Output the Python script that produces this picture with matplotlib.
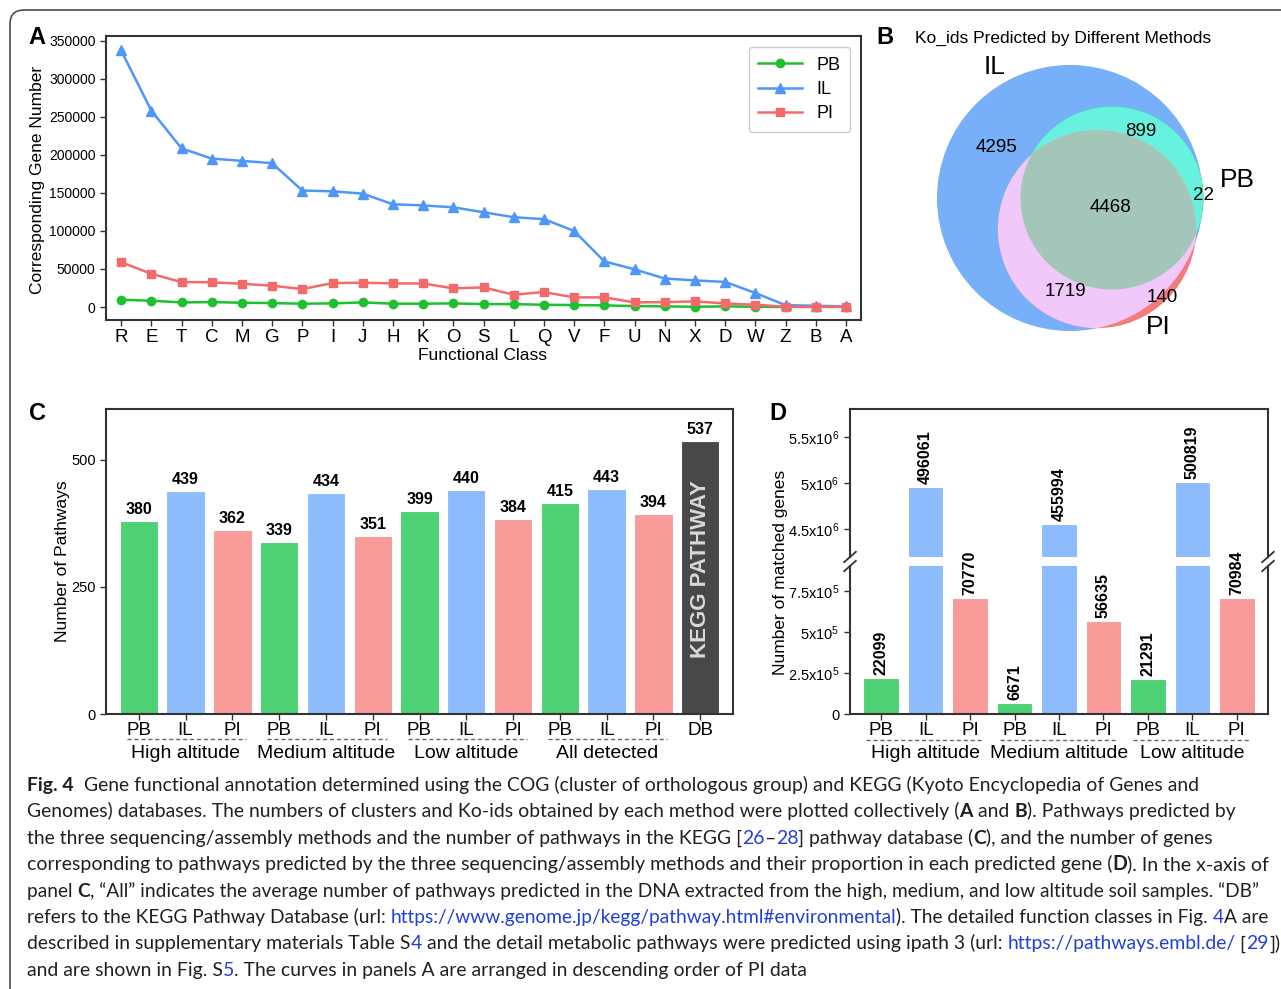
import numpy as np
import matplotlib
matplotlib.use('Agg')
import matplotlib.pyplot as plt
from matplotlib.patches import Circle, FancyBboxPatch

plt.rcParams['font.family'] = ['Liberation Sans', 'DejaVu Sans']

# ---- data ----
cog_classes = ['R', 'E', 'T', 'C', 'M', 'G', 'P', 'I', 'J', 'H', 'K', 'O',
               'S', 'L', 'Q', 'V', 'F', 'U', 'N', 'X', 'D', 'W', 'Z', 'B', 'A']
il_counts = [337000, 258000, 208500, 195000, 192000, 189000, 153000, 152000,
             149000, 135000, 133500, 131000, 124500, 118000, 115500, 100000,
             60000, 49500, 37500, 35000, 33000, 18500, 2500, 1700, 900]
pi_counts = [59000, 43700, 32800, 32500, 30600, 28000, 23600, 31500, 32000,
             31000, 31000, 24500, 25800, 16200, 19700, 12700, 12700, 6100,
             6500, 7400, 4800, 3000, 400, 400, 400]
pb_counts = [9600, 8300, 6100, 6500, 5700, 5200, 4400, 4800, 6100, 4400,
             4400, 4800, 3900, 3900, 3000, 2600, 2200, 1300, 900, 400, 900,
             400, 100, 100, 100]

venn_counts = {'IL': 4295, 'PB+IL': 899, 'PB': 22, 'all': 4468,
               'PI+IL': 1719, 'PI': 140}

c_methods = ['PB', 'IL', 'PI', 'PB', 'IL', 'PI', 'PB', 'IL', 'PI',
             'PB', 'IL', 'PI', 'DB']
c_pathways = [380, 439, 362, 339, 434, 351, 399, 440, 384, 415, 443, 394, 537]
c_groups = ['High altitude', 'Medium altitude', 'Low altitude', 'All detected']

d_methods = ['PB', 'IL', 'PI'] * 3
d_genes = [221000, 4960000, 708000, 67000, 4560000, 566000, 213000, 5008000, 710000]
d_labels = ['22099', '496061', '70770', '6671', '455994', '56635',
            '21291', '500819', '70984']
d_groups = ['High altitude', 'Medium altitude', 'Low altitude']

bar_colors = {'PB': '#4dd174', 'IL': '#8dbcfc', 'PI': '#f89b99', 'DB': '#484848'}

W, H = 1281, 989
fig = plt.figure(figsize=(W / 100, H / 100), dpi=100)


def rect(l, t, r, b):
    return [l / W, 1 - b / H, (r - l) / W, (b - t) / H]


# pixel overlay for frame, letters, caption
ax0 = fig.add_axes([0, 0, 1, 1])
ax0.set_xlim(0, W)
ax0.set_ylim(H, 0)
ax0.axis('off')
ax0.add_patch(FancyBboxPatch((10, 10), 1300, 1000,
                             boxstyle='round,pad=0,rounding_size=14',
                             fc='none', ec='#4d4d4d', lw=1.2))
for letter, (lx, ly) in zip('ABCD', [(37, 37), (885, 37), (38, 413), (778, 413)]):
    ax0.text(lx, ly, letter, fontsize=17, fontweight='bold', ha='center', va='center')

spine_col = '#333333'


def style_axes(ax):
    for s in ax.spines.values():
        s.set_color(spine_col)
        s.set_linewidth(1.5)
    ax.tick_params(direction='out', length=4, width=1, color=spine_col)


# ---- A ----
axA = fig.add_axes(rect(106, 36, 861, 320))
x = np.arange(len(cog_classes))
axA.plot(x, pb_counts, '-o', color='#1fbf2f', ms=6, lw=1.8, label='PB')
axA.plot(x, il_counts, '-^', color='#4f97f7', ms=6.5, lw=1.8, label='IL')
axA.plot(x, pi_counts, '-s', color='#f26a6a', ms=6, lw=1.8, label='PI')
axA.set_xlim(-0.5, len(cog_classes) - 0.5)
axA.set_ylim(-17000, 356000)
axA.set_yticks(range(0, 350001, 50000))
axA.set_yticklabels([str(v) for v in range(0, 350001, 50000)], fontsize=10)
axA.set_xticks(x, cog_classes, fontsize=13.5)
style_axes(axA)
axA.tick_params(axis='x', pad=2.5)
axA.legend(loc='upper right', fontsize=13, handlelength=2.4, borderpad=0.55,
           labelspacing=0.4, framealpha=1, edgecolor='#cccccc', borderaxespad=0.6)
ax0.text(38, 180, 'Corresponding Gene Number', rotation=90, fontsize=12.5,
         ha='center', va='center')
ax0.text(483, 355, 'Functional Class', fontsize=12.5, ha='center', va='center')

# ---- B ----
axB = fig.add_axes(rect(880, 20, 1281, 350))
axB.set_xlim(880, 1281)
axB.set_ylim(350, 20)
axB.axis('off')
n_il = venn_counts['IL'] + venn_counts['PB+IL'] + venn_counts['all'] + venn_counts['PI+IL']
n_pb = venn_counts['PB+IL'] + venn_counts['all'] + venn_counts['PB']
n_pi = venn_counts['all'] + venn_counts['PI+IL'] + venn_counts['PI']
r_il = 133
r_pb = r_il * np.sqrt(n_pb / n_il)
r_pi = r_il * np.sqrt(n_pi / n_il)
c_il, c_pb, c_pi = (1070, 198), (1112, 198), (1097, 229)


def circ(c, r, **kw):
    return Circle(c, r, transform=axB.transData, ec='none', **kw)


axB.add_patch(circ(c_il, r_il, fc='#77aff8'))
axB.add_patch(circ(c_pb, r_pb, fc='#2ecc40'))
axB.add_patch(circ(c_pi, r_pi, fc='#f27c7a'))
p = axB.add_patch(circ(c_pb, r_pb, fc='#66f2de'))
p.set_clip_path(circ(c_il, r_il))
p = axB.add_patch(circ(c_pi, r_pi, fc='#f0c9fa'))
p.set_clip_path(circ(c_il, r_il))
p = axB.add_patch(circ(c_pb, r_pb, fc='#a3c6b9'))
p.set_clip_path(circ(c_pi, r_pi))
axB.text(915, 38, 'Ko_ids Predicted by Different Methods', fontsize=12.5, va='center')
for key, (tx, ty) in zip(['IL', 'PB+IL', 'PB', 'all', 'PI+IL', 'PI'],
                         [(996, 148), (1141, 132), (1203, 196), (1111, 208),
                          (1065, 292), (1162, 298)]):
    axB.text(tx, ty, str(venn_counts[key]), fontsize=13.5, ha='center', va='center')
for name, (tx, ty) in zip(['IL', 'PB', 'PI'], [(995, 67), (1237, 180), (1158, 327)]):
    axB.text(tx, ty, name, fontsize=19, ha='center', va='center')


def group_labels(ax, centers, names, y_line, y_text, left=0.25, right=0.3):
    tr = ax.get_xaxis_transform()
    for c, nm in zip(centers, names):
        ax.plot([c - 1 - left, c + 1 + right], [y_line, y_line], transform=tr,
                clip_on=False, color='#666666', lw=1, dashes=(3, 2))
        ax.text(c, y_text, nm, transform=tr, fontsize=14, ha='center', va='center')


# ---- C ----
axC = fig.add_axes(rect(106, 409, 733, 714))
xc = np.arange(len(c_pathways))
axC.bar(xc, c_pathways, width=0.82, color=[bar_colors[m] for m in c_methods],
        edgecolor='white', lw=0.8)
for i, v in enumerate(c_pathways):
    axC.text(i, v + 8, str(v), ha='center', va='bottom', fontsize=11.5, fontweight='bold')
axC.text(xc[-1], c_pathways[-1] * 0.53, 'KEGG PATHWAY', rotation=90, ha='center',
         va='center', color='#d9d9d9', fontsize=16, fontweight='bold')
axC.set_xlim(-0.7, len(c_pathways) - 0.3)
axC.set_ylim(0, 600)
axC.set_yticks([0, 250, 500])
axC.set_yticklabels(['0', '250', '500'], fontsize=10.5)
axC.set_xticks(xc, c_methods, fontsize=13.5)
style_axes(axC)
axC.tick_params(axis='x', pad=1.5)
group_labels(axC, [1, 4, 7, 10], c_groups, -0.082, -0.128)
ax0.text(62, 561, 'Number of Pathways', rotation=90, fontsize=12.5,
         ha='center', va='center')

# ---- D (broken axis) ----
axD1 = fig.add_axes(rect(850, 566, 1268, 714))
axD2 = fig.add_axes(rect(850, 409, 1268, 557))
axD2.patch.set_alpha(0)
xd = np.arange(len(d_genes))
for ax in (axD1, axD2):
    ax.bar(xd, d_genes, width=0.8, color=[bar_colors[m] for m in d_methods],
           edgecolor='white', lw=0.8)
    ax.set_xlim(-0.7, len(d_genes) - 0.3)
    style_axes(ax)
axD1.set_ylim(0, 9.02e5)
axD2.set_ylim(4.2e6, 5.8e6)
axD1.spines['top'].set_visible(False)
axD2.spines['bottom'].set_visible(False)
axD2.tick_params(axis='x', bottom=False, labelbottom=False)
axD1.set_yticks([0, 2.5e5, 5e5, 7.5e5])
axD1.set_yticklabels(['0', r'$\mathregular{2.5x10^5}$', r'$\mathregular{5x10^5}$',
                      r'$\mathregular{7.5x10^5}$'], fontsize=10.5)
axD2.set_yticks([4.5e6, 5e6, 5.5e6])
axD2.set_yticklabels([r'$\mathregular{4.5x10^6}$', r'$\mathregular{5x10^6}$',
                      r'$\mathregular{5.5x10^6}$'], fontsize=10.5)
axD1.set_xticks(xd, d_methods, fontsize=13.5)
axD1.tick_params(axis='x', pad=1.5)
for i, (v, lab) in enumerate(zip(d_genes, d_labels)):
    ax = axD2 if v > 4.2e6 else axD1
    t = ax.annotate(lab, (i, v), xytext=(0, 2), textcoords='offset points', rotation=90,
                    ha='center', va='bottom', fontsize=11.5, fontweight='bold',
                    annotation_clip=False)
    t.set_clip_on(False)
    t.set_zorder(20)
kw = dict(color=spine_col, lw=1.3, clip_on=False)
dx, dy = 0.014, 0.035
for xe in (0, 1):
    axD1.plot([xe - dx, xe + dx], [1 - dy, 1 + dy], transform=axD1.transAxes, **kw)
    axD2.plot([xe - dx, xe + dx], [-dy, dy], transform=axD2.transAxes, **kw)
group_labels(axD1, [1, 4, 7], d_groups, -0.176, -0.27, left=0.33, right=0.28)
ax0.text(781, 572, 'Number of matched genes', rotation=90, fontsize=12.5,
         ha='center', va='center')

# ---- caption ----
cap_lines = [
    [('Fig. 4', 'b'), ('  Gene functional annotation determined using the COG (cluster of orthologous group) and KEGG (Kyoto Encyclopedia of Genes and', 'n')],
    [('Genomes) databases. The numbers of clusters and Ko-ids obtained by each method were plotted collectively (', 'n'), ('A', 'b'), (' and ', 'n'), ('B', 'b'), ('). Pathways predicted by', 'n')],
    [('the three sequencing/assembly methods and the number of pathways in the KEGG [', 'n'), ('26', 'l'), ('–', 'n'), ('28', 'l'), ('] pathway database (', 'n'), ('C', 'b'), ('), and the number of genes', 'n')],
    [('corresponding to pathways predicted by the three sequencing/assembly methods and their proportion in each predicted gene (', 'n'), ('D', 'b'), ('). In the x-axis of', 'n')],
    [('panel ', 'n'), ('C', 'b'), (', \u201cAll\u201d indicates the average number of pathways predicted in the DNA extracted from the high, medium, and low altitude soil samples. \u201cDB\u201d', 'n')],
    [('refers to the KEGG Pathway Database (url: ', 'n'), ('https://www.genome.jp/kegg/pathway.html#environmental', 'l'), ('). The detailed function classes in Fig. ', 'n'), ('4', 'l'), ('A are', 'n')],
    [('described in supplementary materials Table S', 'n'), ('4', 'l'), (' and the detail metabolic pathways were predicted using ipath 3 (url: ', 'n'), ('https://pathways.embl.de/', 'l'), (' [', 'n'), ('29', 'l'), ('])', 'n')],
    [('and are shown in Fig. S', 'n'), ('5', 'l'), ('. The curves in panels A are arranged in descending order of PI data', 'n')],
]
# right ends of the caption lines in the reference (pixels), None = natural width
cap_ends = [1200, 1235, 1212, 1270, 1260, 1265, 1275, None]
cap_font = 'Lato'
styles = {'n': ('normal', '#231f20'), 'b': ('bold', '#231f20'), 'l': ('normal', '#2140d9')}
renderer = fig.canvas.get_renderer()


def run_width(s, weight, size):
    t1 = ax0.text(0, 0, s + '|', fontsize=size, fontweight=weight, family=cap_font)
    t2 = ax0.text(0, 0, '|', fontsize=size, fontweight=weight, family=cap_font)
    w = t1.get_window_extent(renderer).width - t2.get_window_extent(renderer).width
    t1.remove()
    t2.remove()
    return w


def line_width(line, size):
    return sum(run_width(s, styles[k][0], size) for s, k in line)


base_size = 10 * (1200 - 27) / line_width(cap_lines[0], 10)
for li, line in enumerate(cap_lines):
    size = base_size
    if cap_ends[li] is not None:
        size = base_size * (cap_ends[li] - 27) / line_width(line, base_size)
    xx = 27
    yy = 791 + 26.4 * li
    for s, k in line:
        wt, col = styles[k]
        ax0.text(xx, yy, s, fontsize=size, fontweight=wt, color=col,
                 family=cap_font, va='baseline', ha='left')
        xx += run_width(s, wt, size)

fig.savefig('out.png', dpi=100)
